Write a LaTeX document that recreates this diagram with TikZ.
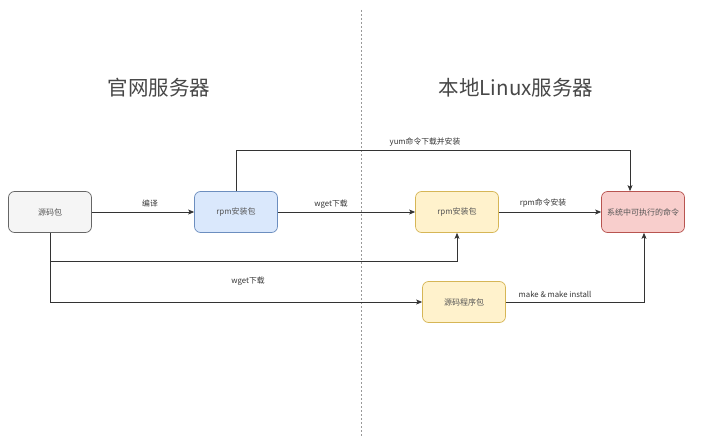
\documentclass[tikz,border=0pt]{standalone}
\usepackage{fontspec}
\setmainfont{Noto Sans CJK SC}
\usetikzlibrary{arrows.meta,calc}
\definecolor{grayfill}{HTML}{F5F5F5}
\definecolor{graydraw}{HTML}{666666}
\definecolor{bluefill}{HTML}{DAE8FC}
\definecolor{bluedraw}{HTML}{6C8EBF}
\definecolor{yelfill}{HTML}{FFF2CC}
\definecolor{yeldraw}{HTML}{D6B656}
\definecolor{redfill}{HTML}{F8CECC}
\definecolor{reddraw}{HTML}{B85450}
\definecolor{txtgray}{HTML}{555555}
\definecolor{linegray}{HTML}{333333}
\begin{document}
\begin{tikzpicture}[x=1pt,y=-1pt,
  box/.style={draw, rounded corners=6pt, minimum width=83pt, minimum height=41pt,
    inner sep=0pt, line width=0.7pt, font=\fontsize{8}{9.5}\selectfont, text=txtgray},
  conn/.style={draw=linegray, line width=0.8pt, -{Stealth[length=6pt,width=5pt,inset=1.5pt]}},
  lbl/.style={font=\fontsize{7.8}{9}\selectfont, text=linegray, inner sep=0pt},
  title/.style={font=\fontsize{20.5}{24}\selectfont, text=linegray!90, inner sep=0pt}]
\useasboundingbox (0,0) rectangle (722,436);
\draw[draw=gray!80, line width=0.7pt, dash pattern=on 2pt off 2pt] (361,10) coordinate (dtop) -- (361,436) coordinate (dbot);

\node[title] (t1) at (159,88) {官网服务器};
\node[title] (t2) at (516,88) {本地Linux服务器};

\node[box, fill=grayfill, draw=graydraw] (src) at (50,212) {源码包};
\node[box, fill=bluefill, draw=bluedraw] (rpm1) at (236,212) {rpm安装包};
\node[box, fill=yelfill, draw=yeldraw] (rpm2) at (457,212) {rpm安装包};
\node[box, fill=redfill, draw=reddraw] (cmd) at (643,212) {系统中可执行的命令};
\node[box, fill=yelfill, draw=yeldraw] (srcpkg) at (464,302) {源码程序包};

\draw[conn] (src) -- (rpm1);
\draw[conn] (rpm1) -- (rpm2);
\draw[conn] (rpm2) -- (cmd);
\draw[conn] (rpm1.north) -- (rpm1.north |- 0,150) -| ([xshift=-13pt]cmd.north);
\draw[conn] (src.south) -- (src.south |- 0,261) -| (rpm2.south);
\draw[conn] (src.south) |- (srcpkg.west);
\draw[conn] (srcpkg.east) -| ([xshift=1pt]cmd.south);

\node[lbl] (l1) at (150,204) {编译};
\node[lbl] (l2) at (331,204) {wget下载};
\node[lbl] (l3) at (543,203) {rpm命令安装};
\node[lbl] (l4) at (425,142) {yum命令下载并安装};
\node[lbl] (l5) at (248,281) {wget下载};
\node[lbl] (l6) at (555,294) {make \& make install};
\end{tikzpicture}
\end{document}
